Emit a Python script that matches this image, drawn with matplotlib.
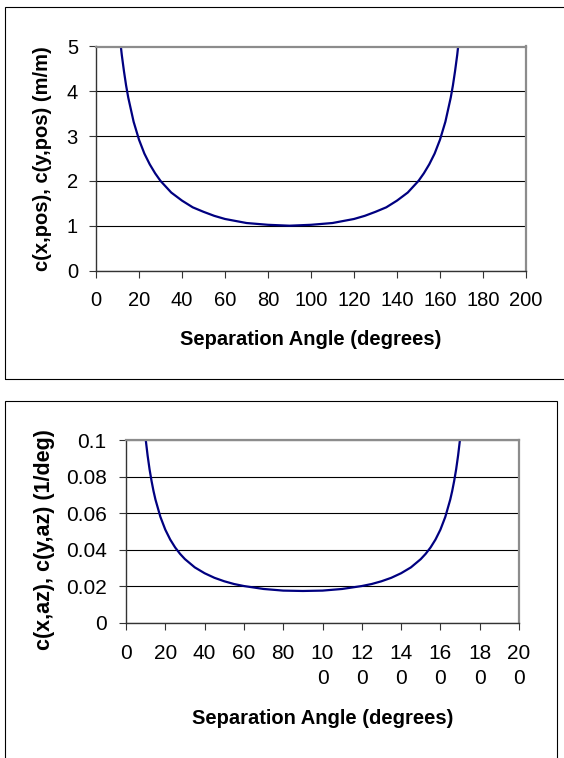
import matplotlib.pyplot as plt
from matplotlib.patches import Rectangle

# ==============================
# DATA
# ==============================
angle_deg = [10, 11, 12, 13, 14, 15, 17.5, 20, 22.5, 25, 27.5, 30, 35, 40, 45, 50, 55, 60,
             70, 80, 90, 100, 110, 120, 125, 130, 135, 140, 145, 150, 152.5, 155, 157.5,
             160, 162.5, 165, 166, 167, 168, 169, 170]

c_pos = [5.76, 5.24, 4.81, 4.45, 4.13, 3.86, 3.32, 2.92, 2.61, 2.37, 2.17, 2.00, 1.74, 1.56,
         1.41, 1.31, 1.22, 1.15, 1.06, 1.02, 1.00, 1.02, 1.06, 1.15, 1.22, 1.31, 1.41, 1.56,
         1.74, 2.00, 2.17, 2.37, 2.61, 2.92, 3.32, 3.86, 4.13, 4.45, 4.81, 5.24, 5.76]

c_az = [0.1005, 0.0915, 0.0839, 0.0776, 0.0721, 0.0674, 0.0580, 0.0510, 0.0456, 0.0413,
        0.0378, 0.0349, 0.0304, 0.0272, 0.0247, 0.0228, 0.0213, 0.0202, 0.0186, 0.0177,
        0.0175, 0.0177, 0.0186, 0.0202, 0.0213, 0.0228, 0.0247, 0.0272, 0.0304, 0.0349,
        0.0378, 0.0413, 0.0456, 0.0510, 0.0580, 0.0674, 0.0721, 0.0776, 0.0839, 0.0915,
        0.1005]

x_ticks = [0, 20, 40, 60, 80, 100, 120, 140, 160, 180, 200]
x_labels_top = ["0", "20", "40", "60", "80", "100", "120", "140", "160", "180", "200"]
x_labels_bot = ["0", "20", "40", "60", "80", "10\n0", "12\n0", "14\n0", "16\n0", "18\n0", "20\n0"]
y_ticks_top = [0, 1, 2, 3, 4, 5]
y_ticks_bot = [0, 0.02, 0.04, 0.06, 0.08, 0.1]
y_labels_bot = ["0", "0.02", "0.04", "0.06", "0.08", "0.1"]

# ==============================
# SETUP
# ==============================
plt.rcParams['font.family'] = ['Liberation Sans', 'DejaVu Sans']
W, H = 564, 758
fig = plt.figure(figsize=(W / 100, H / 100), dpi=100)

# chart frames
fig.add_artist(Rectangle((5 / W, 1 - 379 / H), 570 / W, 372 / H, transform=fig.transFigure,
                         fill=False, edgecolor="black", linewidth=0.8))
fig.add_artist(Rectangle((5 / W, -0.02), 552 / W, 0.02 + 1 - 401 / H, transform=fig.transFigure,
                         fill=False, edgecolor="black", linewidth=0.8))


def style_axes(ax, tick_size, pad_y, pad_x):
    for side in ["top", "right"]:
        ax.spines[side].set_color("#8c8c8c")
        ax.spines[side].set_linewidth(1.6)
    for side in ["left", "bottom"]:
        ax.spines[side].set_color("#333333")
        ax.spines[side].set_linewidth(1.0)
    ax.yaxis.grid(True, color="black", linewidth=0.8)
    ax.set_axisbelow(True)
    ax.tick_params(axis="y", direction="out", length=5, width=0.8, pad=pad_y,
                   labelsize=tick_size, colors="#333333", labelcolor="black")
    ax.tick_params(axis="x", direction="out", length=5, width=0.8, pad=pad_x,
                   labelsize=tick_size, colors="#333333", labelcolor="black")


# ==============================
# TOP CHART
# ==============================
ax1 = fig.add_axes([96 / W, 1 - 270.5 / H, 430 / W, 224 / H])
ax1.plot(angle_deg, c_pos, color="#000080", linewidth=1.6)
ax1.set_xlim(0, 200)
ax1.set_ylim(0, 5)
ax1.set_xticks(x_ticks)
ax1.set_xticklabels(x_labels_top)
ax1.set_yticks(y_ticks_top)
style_axes(ax1, 14.5, 8, 10)
ax1.set_xlabel("Separation Angle (degrees)", fontsize=14.5, fontweight="bold")
ax1.set_ylabel("c(x,pos), c(y,pos) (m/m)", fontsize=14.5, fontweight="bold")
ax1.xaxis.set_label_coords(0.5, -0.265)
ax1.yaxis.set_label_coords(-0.102, 0.5)

# ==============================
# BOTTOM CHART
# ==============================
ax2 = fig.add_axes([126 / W, 1 - 623 / H, 393 / W, 183 / H])
ax2.plot(angle_deg, c_az, color="#000080", linewidth=1.6)
ax2.set_xlim(0, 200)
ax2.set_ylim(0, 0.1)
ax2.set_xticks(x_ticks)
ax2.set_xticklabels(x_labels_bot, linespacing=1.4)
ax2.set_yticks(y_ticks_bot)
ax2.set_yticklabels(y_labels_bot)
style_axes(ax2, 15, 9, 10)
ax2.set_xlabel("Separation Angle (degrees)", fontsize=14.5, fontweight="bold")
ax2.set_ylabel("c(x,az), c(y,az) (1/deg)", fontsize=15.5, fontweight="bold")
ax2.xaxis.set_label_coords(0.5, -0.47)
ax2.yaxis.set_label_coords(-0.18, 0.454)

fig.savefig("out.png", dpi=100)
